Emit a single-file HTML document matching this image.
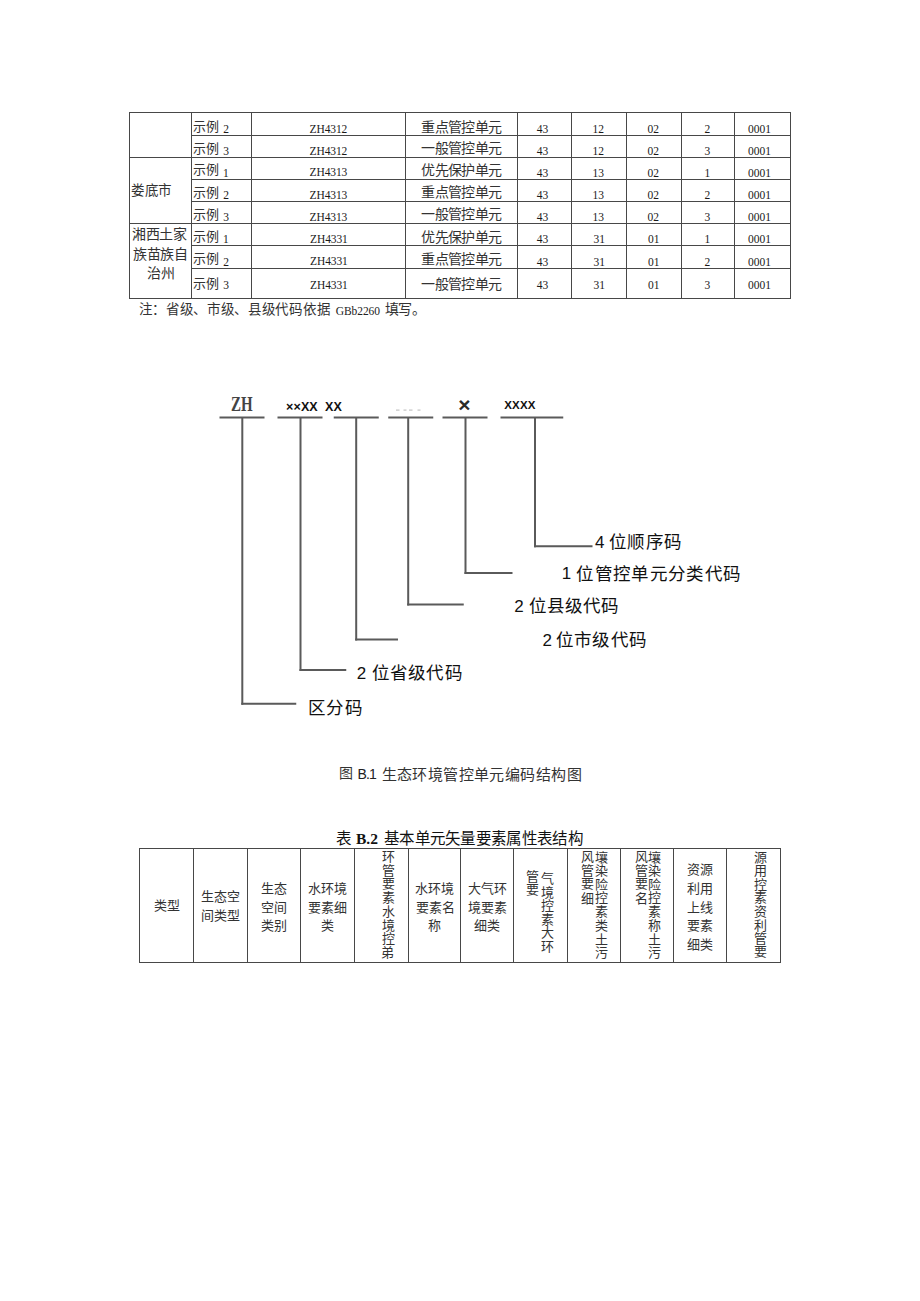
<!DOCTYPE html>
<html lang="zh-CN"><head><meta charset="utf-8"><title>生态环境管控单元编码结构</title>
<style>
html,body{margin:0;padding:0;background:#fff;}
body{width:920px;height:1301px;position:relative;overflow:hidden;}
.t{position:absolute;white-space:nowrap;line-height:1;}
svg{position:absolute;left:0;top:0;}
</style></head><body>
<svg width="920" height="1301" viewBox="0 0 920 1301">
<rect x="129" y="112" width="1" height="187.00" fill="#484848" shape-rendering="crispEdges"/>
<rect x="191" y="112" width="1" height="187.00" fill="#484848" shape-rendering="crispEdges"/>
<rect x="251" y="112" width="1" height="187.00" fill="#484848" shape-rendering="crispEdges"/>
<rect x="405" y="112" width="1" height="187.00" fill="#484848" shape-rendering="crispEdges"/>
<rect x="517" y="112" width="1" height="187.00" fill="#484848" shape-rendering="crispEdges"/>
<rect x="571" y="112" width="1" height="187.00" fill="#484848" shape-rendering="crispEdges"/>
<rect x="626" y="112" width="1" height="187.00" fill="#484848" shape-rendering="crispEdges"/>
<rect x="681" y="112" width="1" height="187.00" fill="#484848" shape-rendering="crispEdges"/>
<rect x="734" y="112" width="1" height="187.00" fill="#484848" shape-rendering="crispEdges"/>
<rect x="790" y="112" width="1" height="187.00" fill="#484848" shape-rendering="crispEdges"/>
<rect x="129" y="112" width="662.00" height="1" fill="#484848" shape-rendering="crispEdges"/>
<rect x="191" y="135" width="600.00" height="1" fill="#484848" shape-rendering="crispEdges"/>
<rect x="129" y="157" width="662.00" height="1" fill="#484848" shape-rendering="crispEdges"/>
<rect x="191" y="179" width="600.00" height="1" fill="#484848" shape-rendering="crispEdges"/>
<rect x="191" y="201" width="600.00" height="1" fill="#484848" shape-rendering="crispEdges"/>
<rect x="129" y="223" width="662.00" height="1" fill="#484848" shape-rendering="crispEdges"/>
<rect x="191" y="245" width="600.00" height="1" fill="#484848" shape-rendering="crispEdges"/>
<rect x="191" y="268" width="600.00" height="1" fill="#484848" shape-rendering="crispEdges"/>
<rect x="129" y="298" width="662.00" height="1" fill="#484848" shape-rendering="crispEdges"/>
<rect x="219.5" y="416.5" width="45.00" height="2.0" fill="#5a5a5a"/>
<rect x="241.3" y="417.5" width="2.0" height="287.25" fill="#5a5a5a"/>
<rect x="241.3" y="702.75" width="54.95" height="2.0" fill="#5a5a5a"/>
<rect x="277.5" y="416.5" width="45.00" height="2.0" fill="#5a5a5a"/>
<rect x="299.5" y="417.5" width="2.0" height="253.50" fill="#5a5a5a"/>
<rect x="299.5" y="669.0" width="46.75" height="2.0" fill="#5a5a5a"/>
<rect x="333.75" y="416.5" width="45.00" height="2.0" fill="#5a5a5a"/>
<rect x="355.2" y="417.5" width="2.0" height="223.00" fill="#5a5a5a"/>
<rect x="355.2" y="638.5" width="42.80" height="2.0" fill="#5a5a5a"/>
<rect x="388.25" y="416.5" width="45.00" height="2.0" fill="#5a5a5a"/>
<rect x="407.2" y="417.5" width="2.0" height="188.00" fill="#5a5a5a"/>
<rect x="407.2" y="603.5" width="56.55" height="2.0" fill="#5a5a5a"/>
<rect x="442.5" y="416.5" width="45.00" height="2.0" fill="#5a5a5a"/>
<rect x="464.5" y="417.5" width="2.0" height="156.50" fill="#5a5a5a"/>
<rect x="464.5" y="572.0" width="48.00" height="2.0" fill="#5a5a5a"/>
<rect x="500.5" y="416.5" width="62.75" height="2.0" fill="#5a5a5a"/>
<rect x="534.0" y="417.5" width="2.0" height="129.75" fill="#5a5a5a"/>
<rect x="534.0" y="545.25" width="58.50" height="2.0" fill="#5a5a5a"/>
<rect x="396" y="409.5" width="3.50" height="1.2" fill="#c4c4c4"/>
<rect x="403.5" y="409.5" width="3.00" height="1.2" fill="#c4c4c4"/>
<rect x="409" y="409.5" width="3.50" height="1.2" fill="#c4c4c4"/>
<rect x="417.5" y="409.5" width="3.00" height="1.2" fill="#c4c4c4"/>
<rect x="139" y="848" width="1" height="115.00" fill="#484848" shape-rendering="crispEdges"/>
<rect x="193" y="848" width="1" height="115.00" fill="#484848" shape-rendering="crispEdges"/>
<rect x="247" y="848" width="1" height="115.00" fill="#484848" shape-rendering="crispEdges"/>
<rect x="300" y="848" width="1" height="115.00" fill="#484848" shape-rendering="crispEdges"/>
<rect x="354" y="848" width="1" height="115.00" fill="#484848" shape-rendering="crispEdges"/>
<rect x="408" y="848" width="1" height="115.00" fill="#484848" shape-rendering="crispEdges"/>
<rect x="460" y="848" width="1" height="115.00" fill="#484848" shape-rendering="crispEdges"/>
<rect x="513" y="848" width="1" height="115.00" fill="#484848" shape-rendering="crispEdges"/>
<rect x="567" y="848" width="1" height="115.00" fill="#484848" shape-rendering="crispEdges"/>
<rect x="620" y="848" width="1" height="115.00" fill="#484848" shape-rendering="crispEdges"/>
<rect x="673" y="848" width="1" height="115.00" fill="#484848" shape-rendering="crispEdges"/>
<rect x="726" y="848" width="1" height="115.00" fill="#484848" shape-rendering="crispEdges"/>
<rect x="780" y="848" width="1" height="115.00" fill="#484848" shape-rendering="crispEdges"/>
<rect x="139" y="848" width="642.00" height="1" fill="#484848" shape-rendering="crispEdges"/>
<rect x="139" y="962" width="642.00" height="1" fill="#484848" shape-rendering="crispEdges"/>
</svg>
<div class="t" style="left:193.38px;top:119.80px;font-size:13.00px;font-family:'Liberation Serif', serif;color:#333;letter-spacing:-0.75px;">示例</div>
<div class="t" style="left:223.30px;top:124.20px;font-size:11.50px;font-family:'Liberation Serif', serif;color:#1a1a1a;">2</div>
<div class="t" style="left:309.50px;top:123.75px;font-size:11.50px;font-family:'Liberation Serif', serif;color:#1a1a1a;letter-spacing:-0.1px;">ZH4312</div>
<div class="t" style="left:421.12px;top:120.60px;font-size:14.00px;font-family:'Liberation Serif', serif;color:#333;letter-spacing:-0.55px;">重点管控单元</div>
<div class="t" style="left:536.70px;top:124.00px;font-size:11.50px;font-family:'Liberation Serif', serif;color:#1a1a1a;">43</div>
<div class="t" style="left:592.40px;top:124.00px;font-size:11.50px;font-family:'Liberation Serif', serif;color:#1a1a1a;">12</div>
<div class="t" style="left:647.40px;top:124.00px;font-size:11.50px;font-family:'Liberation Serif', serif;color:#1a1a1a;">02</div>
<div class="t" style="left:704.60px;top:124.00px;font-size:11.50px;font-family:'Liberation Serif', serif;color:#1a1a1a;">2</div>
<div class="t" style="left:748.00px;top:124.00px;font-size:11.50px;font-family:'Liberation Serif', serif;color:#1a1a1a;">0001</div>
<div class="t" style="left:193.38px;top:141.60px;font-size:13.00px;font-family:'Liberation Serif', serif;color:#333;letter-spacing:-0.75px;">示例</div>
<div class="t" style="left:223.30px;top:146.00px;font-size:11.50px;font-family:'Liberation Serif', serif;color:#1a1a1a;">3</div>
<div class="t" style="left:309.50px;top:145.55px;font-size:11.50px;font-family:'Liberation Serif', serif;color:#1a1a1a;letter-spacing:-0.1px;">ZH4312</div>
<div class="t" style="left:421.12px;top:142.40px;font-size:14.00px;font-family:'Liberation Serif', serif;color:#333;letter-spacing:-0.55px;">一般管控单元</div>
<div class="t" style="left:536.70px;top:145.80px;font-size:11.50px;font-family:'Liberation Serif', serif;color:#1a1a1a;">43</div>
<div class="t" style="left:592.40px;top:145.80px;font-size:11.50px;font-family:'Liberation Serif', serif;color:#1a1a1a;">12</div>
<div class="t" style="left:647.40px;top:145.80px;font-size:11.50px;font-family:'Liberation Serif', serif;color:#1a1a1a;">02</div>
<div class="t" style="left:704.60px;top:145.80px;font-size:11.50px;font-family:'Liberation Serif', serif;color:#1a1a1a;">3</div>
<div class="t" style="left:748.00px;top:145.80px;font-size:11.50px;font-family:'Liberation Serif', serif;color:#1a1a1a;">0001</div>
<div class="t" style="left:193.38px;top:163.40px;font-size:13.00px;font-family:'Liberation Serif', serif;color:#333;letter-spacing:-0.75px;">示例</div>
<div class="t" style="left:223.05px;top:167.80px;font-size:11.50px;font-family:'Liberation Serif', serif;color:#1a1a1a;">1</div>
<div class="t" style="left:309.50px;top:167.35px;font-size:11.50px;font-family:'Liberation Serif', serif;color:#1a1a1a;letter-spacing:-0.1px;">ZH4313</div>
<div class="t" style="left:421.12px;top:164.20px;font-size:14.00px;font-family:'Liberation Serif', serif;color:#333;letter-spacing:-0.55px;">优先保护单元</div>
<div class="t" style="left:536.70px;top:167.60px;font-size:11.50px;font-family:'Liberation Serif', serif;color:#1a1a1a;">43</div>
<div class="t" style="left:592.40px;top:167.60px;font-size:11.50px;font-family:'Liberation Serif', serif;color:#1a1a1a;">13</div>
<div class="t" style="left:647.40px;top:167.60px;font-size:11.50px;font-family:'Liberation Serif', serif;color:#1a1a1a;">02</div>
<div class="t" style="left:704.60px;top:167.60px;font-size:11.50px;font-family:'Liberation Serif', serif;color:#1a1a1a;">1</div>
<div class="t" style="left:748.00px;top:167.60px;font-size:11.50px;font-family:'Liberation Serif', serif;color:#1a1a1a;">0001</div>
<div class="t" style="left:193.38px;top:185.60px;font-size:13.00px;font-family:'Liberation Serif', serif;color:#333;letter-spacing:-0.75px;">示例</div>
<div class="t" style="left:223.30px;top:190.00px;font-size:11.50px;font-family:'Liberation Serif', serif;color:#1a1a1a;">2</div>
<div class="t" style="left:309.50px;top:189.55px;font-size:11.50px;font-family:'Liberation Serif', serif;color:#1a1a1a;letter-spacing:-0.1px;">ZH4313</div>
<div class="t" style="left:421.12px;top:186.40px;font-size:14.00px;font-family:'Liberation Serif', serif;color:#333;letter-spacing:-0.55px;">重点管控单元</div>
<div class="t" style="left:536.70px;top:189.80px;font-size:11.50px;font-family:'Liberation Serif', serif;color:#1a1a1a;">43</div>
<div class="t" style="left:592.40px;top:189.80px;font-size:11.50px;font-family:'Liberation Serif', serif;color:#1a1a1a;">13</div>
<div class="t" style="left:647.40px;top:189.80px;font-size:11.50px;font-family:'Liberation Serif', serif;color:#1a1a1a;">02</div>
<div class="t" style="left:704.60px;top:189.80px;font-size:11.50px;font-family:'Liberation Serif', serif;color:#1a1a1a;">2</div>
<div class="t" style="left:748.00px;top:189.80px;font-size:11.50px;font-family:'Liberation Serif', serif;color:#1a1a1a;">0001</div>
<div class="t" style="left:193.38px;top:207.65px;font-size:13.00px;font-family:'Liberation Serif', serif;color:#333;letter-spacing:-0.75px;">示例</div>
<div class="t" style="left:223.30px;top:212.05px;font-size:11.50px;font-family:'Liberation Serif', serif;color:#1a1a1a;">3</div>
<div class="t" style="left:309.50px;top:211.60px;font-size:11.50px;font-family:'Liberation Serif', serif;color:#1a1a1a;letter-spacing:-0.1px;">ZH4313</div>
<div class="t" style="left:421.12px;top:208.45px;font-size:14.00px;font-family:'Liberation Serif', serif;color:#333;letter-spacing:-0.55px;">一般管控单元</div>
<div class="t" style="left:536.70px;top:211.85px;font-size:11.50px;font-family:'Liberation Serif', serif;color:#1a1a1a;">43</div>
<div class="t" style="left:592.40px;top:211.85px;font-size:11.50px;font-family:'Liberation Serif', serif;color:#1a1a1a;">13</div>
<div class="t" style="left:647.40px;top:211.85px;font-size:11.50px;font-family:'Liberation Serif', serif;color:#1a1a1a;">02</div>
<div class="t" style="left:704.60px;top:211.85px;font-size:11.50px;font-family:'Liberation Serif', serif;color:#1a1a1a;">3</div>
<div class="t" style="left:748.00px;top:211.85px;font-size:11.50px;font-family:'Liberation Serif', serif;color:#1a1a1a;">0001</div>
<div class="t" style="left:193.38px;top:229.90px;font-size:13.00px;font-family:'Liberation Serif', serif;color:#333;letter-spacing:-0.75px;">示例</div>
<div class="t" style="left:223.05px;top:234.30px;font-size:11.50px;font-family:'Liberation Serif', serif;color:#1a1a1a;">1</div>
<div class="t" style="left:310.00px;top:233.85px;font-size:11.50px;font-family:'Liberation Serif', serif;color:#1a1a1a;letter-spacing:-0.1px;">ZH4331</div>
<div class="t" style="left:421.12px;top:230.70px;font-size:14.00px;font-family:'Liberation Serif', serif;color:#333;letter-spacing:-0.55px;">优先保护单元</div>
<div class="t" style="left:536.70px;top:234.10px;font-size:11.50px;font-family:'Liberation Serif', serif;color:#1a1a1a;">43</div>
<div class="t" style="left:593.40px;top:234.10px;font-size:11.50px;font-family:'Liberation Serif', serif;color:#1a1a1a;">31</div>
<div class="t" style="left:647.90px;top:234.10px;font-size:11.50px;font-family:'Liberation Serif', serif;color:#1a1a1a;">01</div>
<div class="t" style="left:704.60px;top:234.10px;font-size:11.50px;font-family:'Liberation Serif', serif;color:#1a1a1a;">1</div>
<div class="t" style="left:748.00px;top:234.10px;font-size:11.50px;font-family:'Liberation Serif', serif;color:#1a1a1a;">0001</div>
<div class="t" style="left:193.38px;top:252.40px;font-size:13.00px;font-family:'Liberation Serif', serif;color:#333;letter-spacing:-0.75px;">示例</div>
<div class="t" style="left:223.30px;top:256.80px;font-size:11.50px;font-family:'Liberation Serif', serif;color:#1a1a1a;">2</div>
<div class="t" style="left:310.00px;top:256.35px;font-size:11.50px;font-family:'Liberation Serif', serif;color:#1a1a1a;letter-spacing:-0.1px;">ZH4331</div>
<div class="t" style="left:421.12px;top:253.20px;font-size:14.00px;font-family:'Liberation Serif', serif;color:#333;letter-spacing:-0.55px;">重点管控单元</div>
<div class="t" style="left:536.70px;top:256.60px;font-size:11.50px;font-family:'Liberation Serif', serif;color:#1a1a1a;">43</div>
<div class="t" style="left:593.40px;top:256.60px;font-size:11.50px;font-family:'Liberation Serif', serif;color:#1a1a1a;">31</div>
<div class="t" style="left:647.90px;top:256.60px;font-size:11.50px;font-family:'Liberation Serif', serif;color:#1a1a1a;">01</div>
<div class="t" style="left:704.60px;top:256.60px;font-size:11.50px;font-family:'Liberation Serif', serif;color:#1a1a1a;">2</div>
<div class="t" style="left:748.00px;top:256.60px;font-size:11.50px;font-family:'Liberation Serif', serif;color:#1a1a1a;">0001</div>
<div class="t" style="left:193.38px;top:277.20px;font-size:13.00px;font-family:'Liberation Serif', serif;color:#333;letter-spacing:-0.75px;">示例</div>
<div class="t" style="left:223.30px;top:279.95px;font-size:11.50px;font-family:'Liberation Serif', serif;color:#1a1a1a;">3</div>
<div class="t" style="left:310.00px;top:279.50px;font-size:11.50px;font-family:'Liberation Serif', serif;color:#1a1a1a;letter-spacing:-0.1px;">ZH4331</div>
<div class="t" style="left:421.12px;top:278.00px;font-size:14.00px;font-family:'Liberation Serif', serif;color:#333;letter-spacing:-0.55px;">一般管控单元</div>
<div class="t" style="left:536.70px;top:279.75px;font-size:11.50px;font-family:'Liberation Serif', serif;color:#1a1a1a;">43</div>
<div class="t" style="left:593.40px;top:279.75px;font-size:11.50px;font-family:'Liberation Serif', serif;color:#1a1a1a;">31</div>
<div class="t" style="left:647.90px;top:279.75px;font-size:11.50px;font-family:'Liberation Serif', serif;color:#1a1a1a;">01</div>
<div class="t" style="left:704.60px;top:279.75px;font-size:11.50px;font-family:'Liberation Serif', serif;color:#1a1a1a;">3</div>
<div class="t" style="left:748.00px;top:279.75px;font-size:11.50px;font-family:'Liberation Serif', serif;color:#1a1a1a;">0001</div>
<div class="t" style="left:131.25px;top:184.38px;font-size:13.50px;font-family:'Liberation Serif', serif;color:#333;letter-spacing:0.5px;">娄底市</div>
<div class="t" style="left:132.25px;top:228.38px;font-size:14.00px;font-family:'Liberation Serif', serif;color:#333;letter-spacing:-0.5px;">湘西土家</div>
<div class="t" style="left:132.75px;top:247.75px;font-size:14.00px;font-family:'Liberation Serif', serif;color:#333;letter-spacing:-0.17px;">族苗族自</div>
<div class="t" style="left:146.62px;top:266.50px;font-size:14.00px;font-family:'Liberation Serif', serif;color:#333;">治州</div>
<div class="t" style="left:138.57px;top:302.75px;font-size:13.50px;font-family:'Liberation Serif', serif;color:#333;letter-spacing:0.69px;">注：省级、市级、县级代码依据</div>
<div class="t" style="left:335.75px;top:305.50px;font-size:11.50px;font-family:'Liberation Serif', serif;color:#222;letter-spacing:-0.08px;">GBb2260</div>
<div class="t" style="left:384.55px;top:302.75px;font-size:14.00px;font-family:'Liberation Serif', serif;color:#333;letter-spacing:-0.35px;">填写。</div>
<div class="t" style="left:230.85px;top:392.70px;font-size:22.00px;font-family:'Liberation Serif', serif;color:#444;font-weight:bold;transform:scaleX(0.68);transform-origin:0 0;">ZH</div>
<div class="t" style="left:286.00px;top:401.00px;font-size:12.50px;font-family:'Liberation Sans', sans-serif;color:#111;font-weight:bold;letter-spacing:0.14px;">××XX&nbsp; XX</div>
<div class="t" style="left:458.25px;top:394.20px;font-size:21.00px;font-family:'Liberation Sans', sans-serif;color:#2a2a2a;font-weight:bold;">×</div>
<div class="t" style="left:504.25px;top:400.00px;font-size:11.50px;font-family:'Liberation Sans', sans-serif;color:#111;font-weight:bold;letter-spacing:0.17px;">XXXX</div>
<div class="t" style="left:595.00px;top:533.77px;font-size:17.00px;font-family:'Liberation Sans', sans-serif;color:#111;">4</div>
<div class="t" style="left:609.38px;top:534.45px;font-size:17.50px;font-family:'Liberation Sans', sans-serif;color:#111;letter-spacing:1.09px;">位顺序码</div>
<div class="t" style="left:561.75px;top:565.30px;font-size:17.00px;font-family:'Liberation Sans', sans-serif;color:#111;">1</div>
<div class="t" style="left:576.38px;top:566.08px;font-size:17.50px;font-family:'Liberation Sans', sans-serif;color:#111;letter-spacing:1.35px;">位管控单元分类代码</div>
<div class="t" style="left:514.25px;top:597.55px;font-size:17.00px;font-family:'Liberation Sans', sans-serif;color:#111;">2</div>
<div class="t" style="left:528.92px;top:597.95px;font-size:17.50px;font-family:'Liberation Sans', sans-serif;color:#111;letter-spacing:1.02px;">位县级代码</div>
<div class="t" style="left:542.42px;top:632.17px;font-size:17.00px;font-family:'Liberation Sans', sans-serif;color:#111;">2</div>
<div class="t" style="left:556.12px;top:632.38px;font-size:17.50px;font-family:'Liberation Sans', sans-serif;color:#111;letter-spacing:1.18px;">位市级代码</div>
<div class="t" style="left:356.65px;top:664.75px;font-size:17.00px;font-family:'Liberation Sans', sans-serif;color:#111;">2</div>
<div class="t" style="left:371.90px;top:664.50px;font-size:17.50px;font-family:'Liberation Sans', sans-serif;color:#111;letter-spacing:1.2px;">位省级代码</div>
<div class="t" style="left:307.90px;top:699.90px;font-size:17.50px;font-family:'Liberation Sans', sans-serif;color:#111;letter-spacing:1.5px;">区分码</div>
<div class="t" style="left:339.10px;top:766.10px;font-size:14.00px;font-family:'Liberation Sans', sans-serif;color:#333;">图</div>
<div class="t" style="left:357.60px;top:767.15px;font-size:14.00px;font-family:'Liberation Sans', sans-serif;color:#222;letter-spacing:-0.9px;">B.1</div>
<div class="t" style="left:381.50px;top:766.55px;font-size:15.00px;font-family:'Liberation Sans', sans-serif;color:#333;letter-spacing:0.42px;">生态环境管控单元编码结构图</div>
<div class="t" style="left:336.25px;top:831.00px;font-size:15.50px;font-family:'Liberation Sans', sans-serif;color:#111;">表</div>
<div class="t" style="left:356.00px;top:831.00px;font-size:15.50px;font-family:'Liberation Serif', serif;color:#111;font-weight:bold;">B.2</div>
<div class="t" style="left:383.85px;top:831.25px;font-size:15.50px;font-family:'Liberation Sans', sans-serif;color:#111;letter-spacing:-0.67px;">基本单元矢量要素属性表结构</div>
<div class="t" style="left:153.62px;top:899.25px;font-size:13.00px;font-family:'Liberation Serif', serif;color:#333;">类型</div>
<div class="t" style="left:201.12px;top:890.25px;font-size:13.00px;font-family:'Liberation Serif', serif;color:#333;">生态空</div>
<div class="t" style="left:201.12px;top:909.25px;font-size:13.00px;font-family:'Liberation Serif', serif;color:#333;">间类型</div>
<div class="t" style="left:261.00px;top:881.75px;font-size:13.00px;font-family:'Liberation Serif', serif;color:#333;">生态</div>
<div class="t" style="left:261.00px;top:900.50px;font-size:13.00px;font-family:'Liberation Serif', serif;color:#333;">空间</div>
<div class="t" style="left:261.00px;top:919.25px;font-size:13.00px;font-family:'Liberation Serif', serif;color:#333;">类别</div>
<div class="t" style="left:308.00px;top:881.75px;font-size:13.00px;font-family:'Liberation Serif', serif;color:#333;">水环境</div>
<div class="t" style="left:308.00px;top:900.50px;font-size:13.00px;font-family:'Liberation Serif', serif;color:#333;">要素细</div>
<div class="t" style="left:321.00px;top:919.25px;font-size:13.00px;font-family:'Liberation Serif', serif;color:#333;">类</div>
<div class="t" style="left:381.75px;top:850.00px;font-size:13.00px;font-family:'Liberation Serif', serif;color:#333;">环</div>
<div class="t" style="left:381.75px;top:864.10px;font-size:13.00px;font-family:'Liberation Serif', serif;color:#333;">管</div>
<div class="t" style="left:381.75px;top:877.20px;font-size:13.00px;font-family:'Liberation Serif', serif;color:#333;">要</div>
<div class="t" style="left:381.75px;top:891.30px;font-size:13.00px;font-family:'Liberation Serif', serif;color:#333;">素</div>
<div class="t" style="left:381.75px;top:904.90px;font-size:13.00px;font-family:'Liberation Serif', serif;color:#333;">水</div>
<div class="t" style="left:381.75px;top:918.50px;font-size:13.00px;font-family:'Liberation Serif', serif;color:#333;">境</div>
<div class="t" style="left:381.75px;top:932.10px;font-size:13.00px;font-family:'Liberation Serif', serif;color:#333;">控</div>
<div class="t" style="left:381.25px;top:945.70px;font-size:13.00px;font-family:'Liberation Serif', serif;color:#333;">弟</div>
<div class="t" style="left:415.25px;top:881.75px;font-size:13.00px;font-family:'Liberation Serif', serif;color:#333;">水环境</div>
<div class="t" style="left:415.75px;top:900.50px;font-size:13.00px;font-family:'Liberation Serif', serif;color:#333;">要素名</div>
<div class="t" style="left:428.25px;top:919.25px;font-size:13.00px;font-family:'Liberation Serif', serif;color:#333;">称</div>
<div class="t" style="left:467.75px;top:881.75px;font-size:13.00px;font-family:'Liberation Serif', serif;color:#333;">大气环</div>
<div class="t" style="left:467.75px;top:900.50px;font-size:13.00px;font-family:'Liberation Serif', serif;color:#333;">境要素</div>
<div class="t" style="left:474.25px;top:919.25px;font-size:13.00px;font-family:'Liberation Serif', serif;color:#333;">细类</div>
<div class="t" style="left:526.38px;top:869.50px;font-size:13.00px;font-family:'Liberation Serif', serif;color:#333;">管</div>
<div class="t" style="left:526.38px;top:882.60px;font-size:13.00px;font-family:'Liberation Serif', serif;color:#333;">要</div>
<div class="t" style="left:541.00px;top:872.00px;font-size:13.00px;font-family:'Liberation Serif', serif;color:#333;">气</div>
<div class="t" style="left:541.00px;top:885.60px;font-size:13.00px;font-family:'Liberation Serif', serif;color:#333;">境</div>
<div class="t" style="left:541.00px;top:899.20px;font-size:13.00px;font-family:'Liberation Serif', serif;color:#333;">控</div>
<div class="t" style="left:541.00px;top:912.80px;font-size:13.00px;font-family:'Liberation Serif', serif;color:#333;">素</div>
<div class="t" style="left:541.00px;top:926.40px;font-size:13.00px;font-family:'Liberation Serif', serif;color:#333;">大</div>
<div class="t" style="left:541.00px;top:939.50px;font-size:13.00px;font-family:'Liberation Serif', serif;color:#333;">环</div>
<div class="t" style="left:581.38px;top:850.25px;font-size:13.00px;font-family:'Liberation Serif', serif;color:#333;">风</div>
<div class="t" style="left:581.38px;top:864.35px;font-size:13.00px;font-family:'Liberation Serif', serif;color:#333;">管</div>
<div class="t" style="left:581.38px;top:877.45px;font-size:13.00px;font-family:'Liberation Serif', serif;color:#333;">要</div>
<div class="t" style="left:581.38px;top:891.55px;font-size:13.00px;font-family:'Liberation Serif', serif;color:#333;">细</div>
<div class="t" style="left:594.75px;top:850.50px;font-size:13.00px;font-family:'Liberation Serif', serif;color:#333;">壤</div>
<div class="t" style="left:594.75px;top:864.10px;font-size:13.00px;font-family:'Liberation Serif', serif;color:#333;">染</div>
<div class="t" style="left:594.75px;top:877.70px;font-size:13.00px;font-family:'Liberation Serif', serif;color:#333;">险</div>
<div class="t" style="left:594.75px;top:891.30px;font-size:13.00px;font-family:'Liberation Serif', serif;color:#333;">控</div>
<div class="t" style="left:594.75px;top:904.90px;font-size:13.00px;font-family:'Liberation Serif', serif;color:#333;">素</div>
<div class="t" style="left:594.75px;top:918.50px;font-size:13.00px;font-family:'Liberation Serif', serif;color:#333;">类</div>
<div class="t" style="left:594.75px;top:932.60px;font-size:13.00px;font-family:'Liberation Serif', serif;color:#333;">土</div>
<div class="t" style="left:594.75px;top:945.70px;font-size:13.00px;font-family:'Liberation Serif', serif;color:#333;">污</div>
<div class="t" style="left:634.50px;top:850.25px;font-size:13.00px;font-family:'Liberation Serif', serif;color:#333;">风</div>
<div class="t" style="left:634.50px;top:864.35px;font-size:13.00px;font-family:'Liberation Serif', serif;color:#333;">管</div>
<div class="t" style="left:634.50px;top:877.45px;font-size:13.00px;font-family:'Liberation Serif', serif;color:#333;">要</div>
<div class="t" style="left:635.00px;top:891.55px;font-size:13.00px;font-family:'Liberation Serif', serif;color:#333;">名</div>
<div class="t" style="left:647.88px;top:850.50px;font-size:13.00px;font-family:'Liberation Serif', serif;color:#333;">壤</div>
<div class="t" style="left:647.88px;top:864.10px;font-size:13.00px;font-family:'Liberation Serif', serif;color:#333;">染</div>
<div class="t" style="left:647.88px;top:877.70px;font-size:13.00px;font-family:'Liberation Serif', serif;color:#333;">险</div>
<div class="t" style="left:647.88px;top:891.30px;font-size:13.00px;font-family:'Liberation Serif', serif;color:#333;">控</div>
<div class="t" style="left:647.88px;top:904.90px;font-size:13.00px;font-family:'Liberation Serif', serif;color:#333;">素</div>
<div class="t" style="left:647.88px;top:918.50px;font-size:13.00px;font-family:'Liberation Serif', serif;color:#333;">称</div>
<div class="t" style="left:647.88px;top:932.60px;font-size:13.00px;font-family:'Liberation Serif', serif;color:#333;">土</div>
<div class="t" style="left:647.88px;top:945.70px;font-size:13.00px;font-family:'Liberation Serif', serif;color:#333;">污</div>
<div class="t" style="left:686.75px;top:863.00px;font-size:13.00px;font-family:'Liberation Serif', serif;color:#333;">资源</div>
<div class="t" style="left:686.75px;top:881.75px;font-size:13.00px;font-family:'Liberation Serif', serif;color:#333;">利用</div>
<div class="t" style="left:686.75px;top:900.50px;font-size:13.00px;font-family:'Liberation Serif', serif;color:#333;">上线</div>
<div class="t" style="left:686.75px;top:919.25px;font-size:13.00px;font-family:'Liberation Serif', serif;color:#333;">要素</div>
<div class="t" style="left:686.75px;top:938.00px;font-size:13.00px;font-family:'Liberation Serif', serif;color:#333;">细类</div>
<div class="t" style="left:753.50px;top:850.50px;font-size:13.00px;font-family:'Liberation Serif', serif;color:#333;">源</div>
<div class="t" style="left:753.50px;top:863.60px;font-size:13.00px;font-family:'Liberation Serif', serif;color:#333;">用</div>
<div class="t" style="left:753.50px;top:877.70px;font-size:13.00px;font-family:'Liberation Serif', serif;color:#333;">控</div>
<div class="t" style="left:753.50px;top:891.30px;font-size:13.00px;font-family:'Liberation Serif', serif;color:#333;">素</div>
<div class="t" style="left:753.50px;top:904.90px;font-size:13.00px;font-family:'Liberation Serif', serif;color:#333;">资</div>
<div class="t" style="left:753.50px;top:918.50px;font-size:13.00px;font-family:'Liberation Serif', serif;color:#333;">利</div>
<div class="t" style="left:753.50px;top:932.10px;font-size:13.00px;font-family:'Liberation Serif', serif;color:#333;">管</div>
<div class="t" style="left:753.50px;top:945.20px;font-size:13.00px;font-family:'Liberation Serif', serif;color:#333;">要</div>
</body></html>
